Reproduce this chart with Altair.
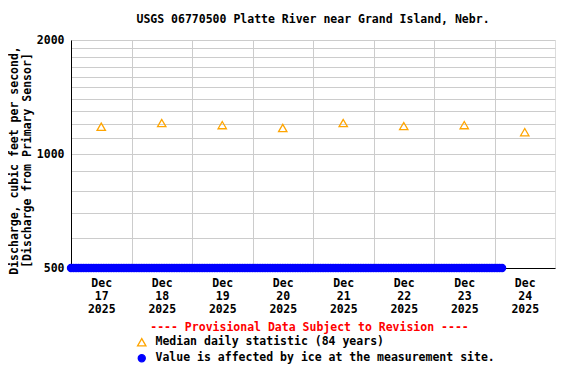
import altair as alt
import pandas as pd

FONT = "DejaVu Sans Mono"

# Median daily statistic (84 years), plotted at noon of each day
median_days = ["2025-12-17T12:00:00", "2025-12-18T12:00:00", "2025-12-19T12:00:00",
               "2025-12-20T12:00:00", "2025-12-21T12:00:00", "2025-12-22T12:00:00",
               "2025-12-23T12:00:00", "2025-12-24T12:00:00"]
median_values = [1180, 1207, 1192, 1171, 1207, 1185, 1192, 1142]

# Ice-affected readings (plotted along the bottom of the graph)
ice_start = "2025-12-17T00:00:00"
ice_end = "2025-12-24T03:00:00"
ice_times = [t.strftime("%Y-%m-%dT%H:%M:%S") for t in pd.date_range(ice_start, ice_end, freq="1h")]
ice_values = [500] * len(ice_times)

y_grid = [500, 600, 700, 800, 900, 1000, 1100, 1200, 1300, 1400, 1500,
          1600, 1700, 1800, 1900, 2000]
y_labels = [500, 1000, 2000]

MED = "Median daily statistic (84 years)"
ICE = "Value is affected by ice at the measurement site."

df = pd.DataFrame({
    "time": median_days + ice_times,
    "value": median_values + ice_values,
    "series": [MED] * len(median_days) + [ICE] * len(ice_times),
})

day_ticks = [alt.DateTime(year=2025, month=12, date=d, hours=0) for d in range(17, 25)]
label_test = " || ".join("datum.value == %d" % v for v in y_labels)

chart = alt.Chart(df).mark_point(filled=False, strokeWidth=1.3, clip=False, opacity=1).encode(
    x=alt.X("time:T",
            scale=alt.Scale(domain=[alt.DateTime(year=2025, month=12, date=17, hours=0),
                                    alt.DateTime(year=2025, month=12, date=25, hours=0)]),
            axis=alt.Axis(values=day_ticks, ticks=False, grid=True, gridColor="#cccccc",
                          labelOffset=30.25, labelPadding=9, labelLineHeight=13,
                          labelExpr="[timeFormat(datum.value, '%b'), timeFormat(datum.value, '%d'), timeFormat(datum.value, '%Y')]",
                          labelFont=FONT, labelFontWeight="bold", labelFontSize=11.5,
                          labelColor="black", domainColor="black",
                          title="---- Provisional Data Subject to Revision ----",
                          titleColor="#ff0000", titleFont=FONT, titleFontWeight="bold",
                          titleFontSize=11.5, titlePadding=7, titleX=238, labelFlush=False)),
    y=alt.Y("value:Q",
            scale=alt.Scale(type="log", domain=[500, 2000]),
            axis=alt.Axis(values=y_grid, ticks=False, grid=True, gridColor="#cccccc",
                          labelExpr="(%s) ? datum.value : ''" % label_test,
                          labelFont=FONT, labelFontWeight="bold", labelFontSize=11.5,
                          labelColor="black", labelPadding=7, domainColor="black",
                          title=["Discharge, cubic feet per second,", "[Discharge from Primary Sensor]"],
                          titleFont=FONT, titleFontWeight="bold", titleFontSize=11.5,
                          titleColor="black", titleLineHeight=13, titlePadding=4,
                          titleY=120)),
    color=alt.Color("series:N",
                    scale=alt.Scale(domain=[MED, ICE], range=["#ffa500", "#0000ff"]),
                    legend=alt.Legend(orient="none", legendX=65, legendY=296.5, title=None,
                                      direction="vertical", labelFont=FONT,
                                      labelFontWeight="bold", labelFontSize=11.5,
                                      labelColor="black", rowPadding=3, symbolSize=70,
                                      labelOffset=8, symbolStrokeWidth=1.3, labelLimit=0)),
    fill=alt.Fill("series:N",
                  scale=alt.Scale(domain=[MED, ICE], range=["transparent", "#0000ff"]),
                  legend=None),
    shape=alt.Shape("series:N",
                    scale=alt.Scale(domain=[MED, ICE], range=["triangle-up", "circle"])),
    size=alt.Size("series:N",
                  scale=alt.Scale(domain=[MED, ICE], range=[70, 50])),
).properties(
    width=484,
    height=228,
    autosize=alt.AutoSizeParams(type="none"),
    padding={"left": 63, "top": 32, "right": 13, "bottom": 108},
    title=alt.TitleParams("USGS 06770500 Platte River near Grand Island, Nebr.",
                          font=FONT, fontWeight="bold", fontSize=11.5, color="black",
                          offset=9),
).configure_view(
    stroke="black", strokeWidth=1
).configure(background="white")

chart.save("out.html", embed_options={"renderer": "svg", "actions": False})
